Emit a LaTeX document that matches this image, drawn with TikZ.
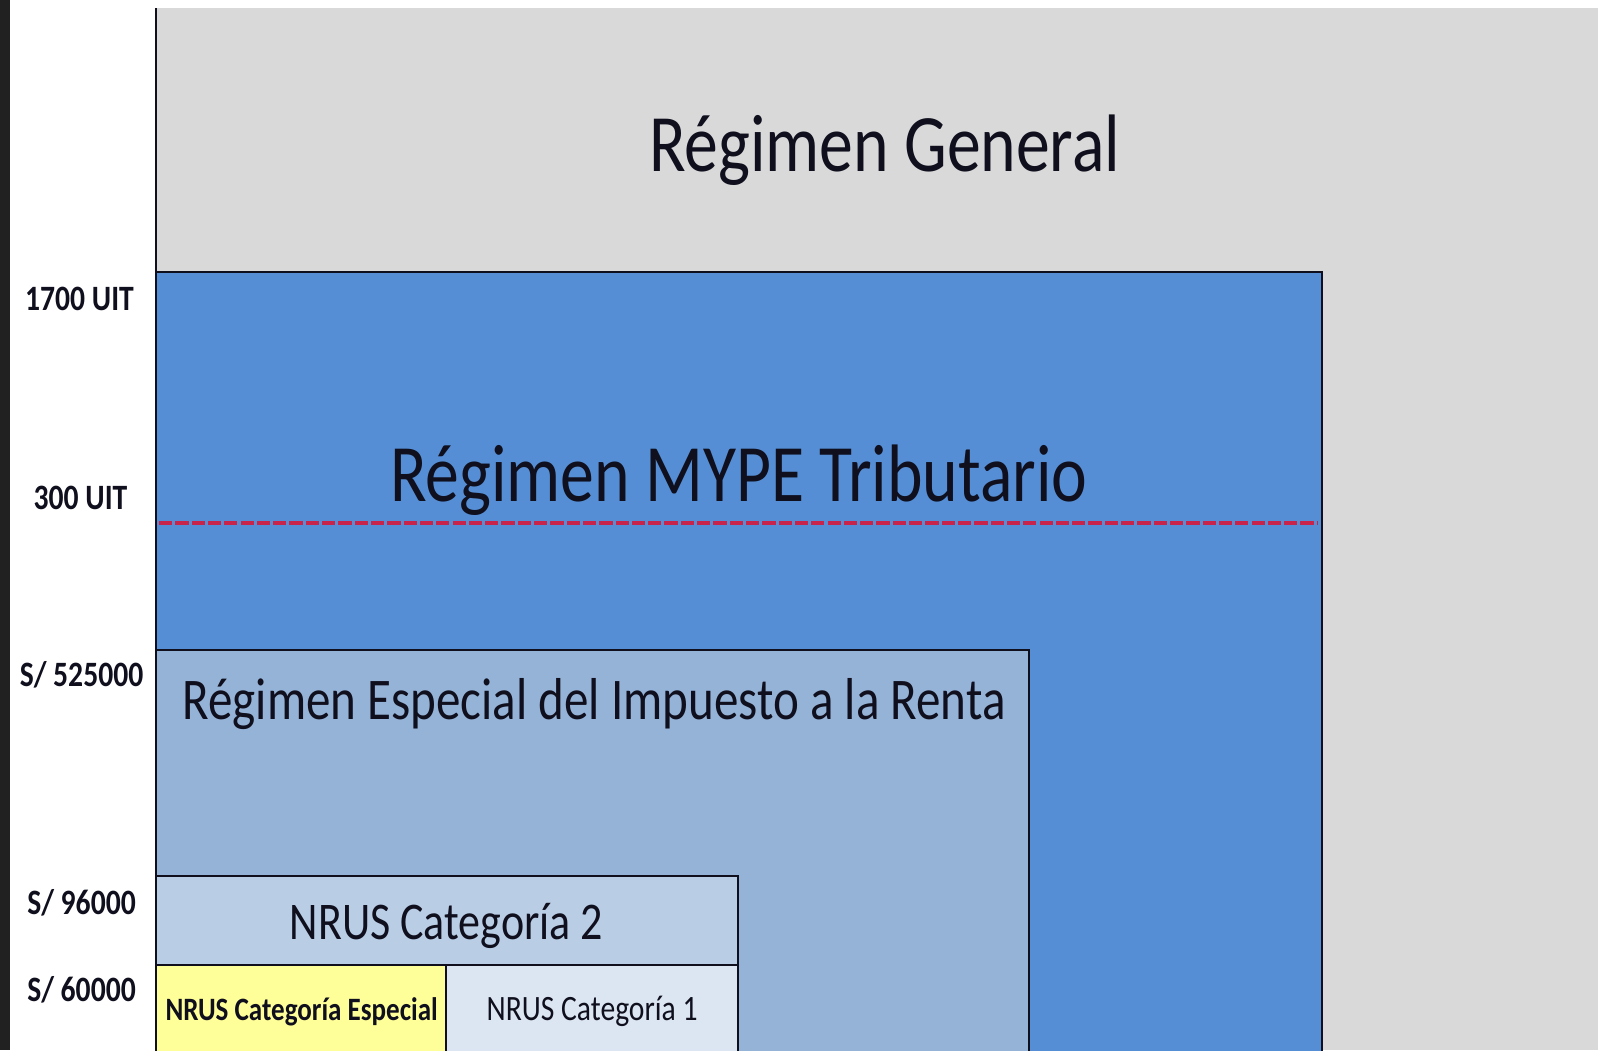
\documentclass[tikz,border=0pt]{standalone}
\usepackage{fontspec}
\setmainfont{Carlito}[FakeStretch=0.83]
\usetikzlibrary{positioning}

\definecolor{generalgray}{RGB}{217,217,217}
\definecolor{mypeblue}{RGB}{85,142,213}
\definecolor{rerblue}{RGB}{149,179,215}
\definecolor{cattwo}{RGB}{185,205,229}
\definecolor{catone}{RGB}{220,230,242}
\definecolor{catespecial}{RGB}{255,255,153}
\definecolor{limitred}{RGB}{200,35,75}
\definecolor{darkstrip}{RGB}{33,33,33}
\definecolor{inkdark}{RGB}{15,15,30}

\begin{document}
\begin{tikzpicture}[x=1pt, y=-1pt,
  regbox/.style={draw=inkdark, line width=2pt},
  limit/.style={anchor=base, text=inkdark, font=\bfseries\fontsize{35}{38}\selectfont},
  title/.style={anchor=base, text=inkdark}]
\useasboundingbox (0,0) rectangle (1568,1030.3);
\fill[white] (0,0) rectangle (1568,1030.3);
\fill[darkstrip] (0,0) rectangle (10,1030.3);
\fill[generalgray] (152,8) rectangle (1568,1030.3);
\draw[inkdark, line width=2.5pt] (153,8) -- (153,1032);

% regimes, from the largest to the smallest
\filldraw[regbox, fill=mypeblue] (153,267) rectangle (1297,1032);
\draw[limitred, line width=4.5pt, dash pattern=on 13pt off 3pt] (156,513) -- (1293,513);
\filldraw[regbox, fill=rerblue] (153,638) rectangle (1010,1032);
\filldraw[regbox, fill=cattwo] (153,860) rectangle (724,947);
\filldraw[regbox, fill=catespecial] (153,947) rectangle (438,1032);
\filldraw[regbox, fill=catone] (438,947) rectangle (724,1032);

\node[title, font=\fontsize{80}{82}\selectfont] (general) at (868,168) {Régimen General};
\node[title, font=\fontsize{80}{82}\selectfont] (mype) at (725,492) {Régimen MYPE Tributario};
\node[title, font=\fontsize{58}{60}\selectfont] (rer) at (583,706) {Régimen Especial del Impuesto a la Renta};
\node[title, font=\fontsize{52}{54}\selectfont] (nrus2) at (438,922) {NRUS Categoría 2};
\node[title, font=\bfseries\fontsize{32}{34}\selectfont] (nrusesp) at (296,1001) {NRUS Categoría Especial};
\node[title, font=\fontsize{35}{37}\selectfont] (nrus1) at (581,1001) {NRUS Categoría 1};

% limits on the left
\node[limit] (uit1700) at (78,305) {1700 UIT};
\node[limit] (uit300) at (79,500) {300 UIT};
\node[limit] (s525) at (80,674) {S/ 525000};
\node[limit] (s96) at (80,897) {S/ 96000};
\node[limit] (s60) at (80,983) {S/ 60000};
\end{tikzpicture}
\end{document}
